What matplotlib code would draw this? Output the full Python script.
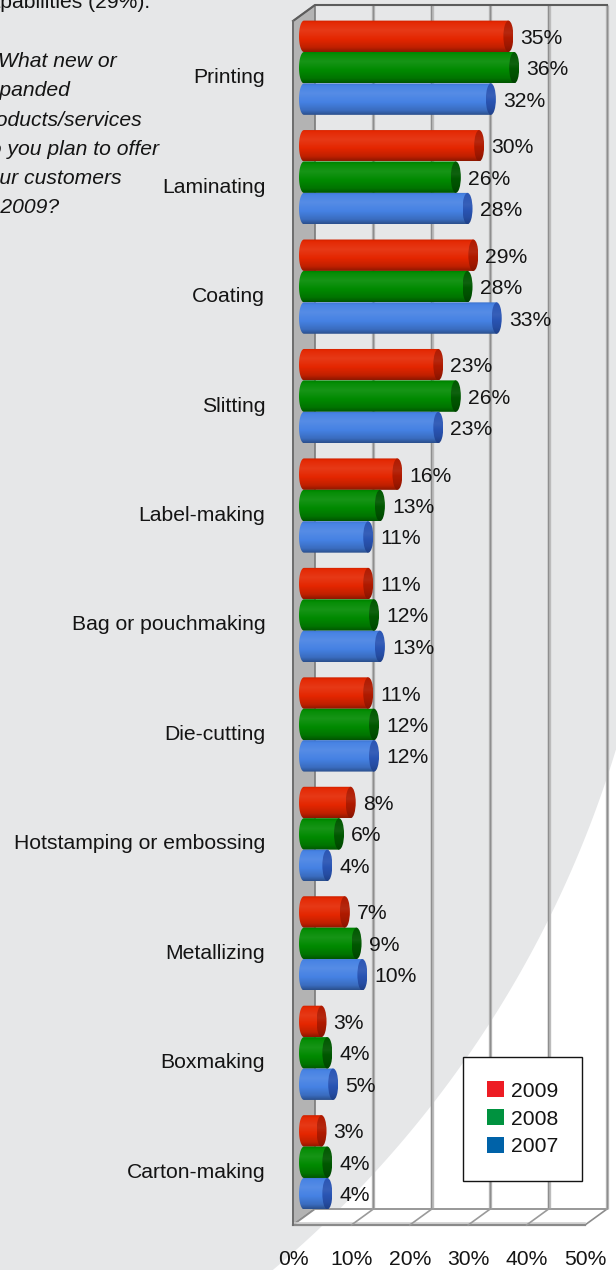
import numpy as np
import matplotlib
matplotlib.use("Agg")
import matplotlib.pyplot as plt
from matplotlib.patches import Polygon, Ellipse, Patch
from matplotlib.colors import to_rgb

# ---- data -------------------------------------------------------------
categories = ["Printing", "Laminating", "Coating", "Slitting", "Label-making",
              "Bag or pouchmaking", "Die-cutting", "Hotstamping or embossing",
              "Metallizing", "Boxmaking", "Carton-making"]
years = ["2009", "2008", "2007"]
values_2009 = [35, 30, 29, 23, 16, 11, 11, 8, 7, 3, 3]
values_2008 = [36, 26, 28, 26, 13, 12, 12, 6, 9, 4, 4]
values_2007 = [32, 28, 33, 23, 11, 13, 12, 4, 10, 5, 4]
x_ticks = [0, 10, 20, 30, 40, 50]
x_tick_labels = ["0%", "10%", "20%", "30%", "40%", "50%"]
intro_line = "capabilities (29%)."
question_lines = ["What new or", "expanded", "products/services",
                  "do you plan to offer", "your customers", "in 2009?"]

series = [values_2009, values_2008, values_2007]
body_colors = ["#e42600", "#008a00", "#4581e3"]
cap_colors = ["#b01a00", "#005800", "#2a55b4"]
legend_colors = ["#ed1c24", "#00923f", "#0062a8"]

FONT = "Liberation Sans"
FS = 15.2
TXT = "#141414"

# ---- canvas -----------------------------------------------------------
W, H = 616, 1270
fig = plt.figure(figsize=(W / 100, H / 100), dpi=100, facecolor="white")

bg = fig.add_axes([0, 0, 1, 1], zorder=0)
bg.set_xlim(0, W)
bg.set_ylim(H, 0)
bg.axis("off")
# light grey page with a sweeping white arc in the lower right corner
cx, cy, rad = -432.0, 432.0, 1095.0
arc_y = np.linspace(750, H, 80)
arc_x = cx + np.sqrt(rad ** 2 - (arc_y - cy) ** 2)
shape = [(0, 0), (W, 0), (W, 750)] + list(zip(arc_x, arc_y)) + [(0, H)]
bg.add_patch(Polygon(shape, closed=True, facecolor="#e6e7e8", edgecolor="none"))

bg.text(-22.5, 8, intro_line, fontsize=FS, family=FONT, color=TXT,
        ha="left", va="baseline")
q_x = [-2, -22.5, -22.5, -22.5, -22.5, -22.5]
q_base = [67, 96.5, 125.5, 155, 184, 213]
for line, x, yb in zip(question_lines, q_x, q_base):
    bg.text(x, yb, line, fontsize=FS, family=FONT, style="italic", color=TXT,
            ha="left", va="baseline")

# ---- chart axes (front plane of the 3-D box) --------------------------
L, R, T, B = 293, 585, 21, 1225
n = len(categories)
ax = fig.add_axes([L / W, 1 - B / H, (R - L) / W, (B - T) / H], zorder=1)
ax.set_facecolor("none")
ax.set_autoscale_on(False)
ax.set_xlim(0, 50)
ax.set_ylim(n - 0.5, -0.5)
for s in ax.spines.values():
    s.set_visible(False)

px_x = (R - L) / 50.0          # pixels per percent
px_y = (B - T) / float(n)      # pixels per category slot
dx = 22 / px_x                 # box depth, horizontal
dy = -16 / px_y                # box depth, vertical (upwards)
ytop, ybot = -0.5, n - 0.5
xmax = x_ticks[-1]

# left wall
ax.add_patch(Polygon([(0, ytop), (0, ybot), (dx, ybot + dy), (dx, ytop + dy)],
                     closed=True, facecolor="#b3b3b3", edgecolor="#7a7a7a",
                     lw=1.2, zorder=1, clip_on=False))
# floor
ax.add_patch(Polygon([(0, ybot), (xmax, ybot), (xmax + dx, ybot + dy), (dx, ybot + dy)],
                     closed=True, facecolor="white", edgecolor="#8c8c8c",
                     lw=1.2, zorder=1, clip_on=False))
ax.plot([0, xmax], [ybot - 2.5 / px_y] * 2, color="#cfcfcf", lw=1.2,
        zorder=1.2, clip_on=False)
ax.plot([0, xmax], [ybot, ybot], color="#8a8a8a", lw=1.6, zorder=1.3, clip_on=False)
for k in x_ticks[1:-1]:
    ax.plot([k, k + dx], [ybot, ybot + dy], color="#9a9a9a", lw=1.2,
            zorder=1.3, clip_on=False)
# back wall grid
for k in x_ticks[1:]:
    ax.plot([k + dx] * 2, [ytop + dy, ybot + dy], color="#bcbcbc", lw=2.4,
            zorder=1.4, clip_on=False, solid_capstyle="butt")
    ax.plot([k + dx - 0.5 / px_x] * 2, [ytop + dy, ybot + dy], color="#8e8e8e",
            lw=1.0, zorder=1.5, clip_on=False, solid_capstyle="butt")
ax.plot([dx, xmax + dx], [ybot + dy] * 2, color="#9a9a9a", lw=1.2,
        zorder=1.5, clip_on=False)
# top edges
ax.plot([0, dx, xmax + dx], [ytop, ytop + dy, ytop + dy], color="#5c5c5c",
        lw=1.5, zorder=1.6, clip_on=False)
ax.plot([0, 0], [ytop, ybot], color="#6e6e6e", lw=1.4, zorder=1.6, clip_on=False)


def shade(color, stops):
    base = np.array(to_rgb(color))
    rows = []
    t = np.linspace(0, 1, 64)
    pos = [p for p, _ in stops]
    fac = [f for _, f in stops]
    for v in np.interp(t, pos, fac):
        if v >= 1:
            c = base + (1 - base) * (v - 1)
        else:
            c = base * v
        rows.append(np.clip(c, 0, 1))
    return np.array(rows)[:, None, :]


BODY_STOPS = [(0.0, 0.90), (0.08, 1.02), (0.32, 1.09), (0.6, 1.0), (0.86, 0.84), (1.0, 0.62)]
CAP_STOPS = [(0.0, 1.0), (0.4, 1.06), (0.8, 0.9), (1.0, 0.75)]


def gradient_fill(patch, color, stops, extent, z):
    im = ax.imshow(shade(color, stops), extent=extent, aspect="auto",
                   interpolation="bilinear", zorder=z)
    im.set_clip_box(fig.bbox)
    im.set_clip_path(patch)
    return im


# ---- cylinders --------------------------------------------------------
bar_h = 0.287
offsets = [-bar_h, 0.0, bar_h]
a = 5 / px_x                   # half-width of the cylinder end
theta = np.linspace(np.pi / 2, 3 * np.pi / 2, 40)

for j, vals in enumerate(series):
    for i, v in enumerate(vals):
        yc = i + offsets[j] + dy / 2
        x0 = dx / 2
        xe = x0 + v
        verts = [(x0 + a * np.cos(t), yc + bar_h / 2 * np.sin(t)) for t in theta]
        verts += [(xe, yc - bar_h / 2), (xe, yc + bar_h / 2)]
        body = Polygon(verts, closed=True, transform=ax.transData)
        gradient_fill(body, body_colors[j], BODY_STOPS,
                      (x0 - a, xe, yc + bar_h / 2, yc - bar_h / 2), 3 + 0.01 * i)
        cap = Ellipse((xe, yc), 2 * a, bar_h, transform=ax.transData)
        gradient_fill(cap, cap_colors[j], CAP_STOPS,
                      (xe - a, xe + a, yc + bar_h / 2, yc - bar_h / 2), 3.005 + 0.01 * i)
        ax.text(xe + 12 / px_x, yc + 7.5 / px_y, f"{v}%", fontsize=FS, family=FONT,
                color=TXT, ha="left", va="baseline", zorder=5, clip_on=False)

# ---- axes labels ------------------------------------------------------
ax.set_xticks(x_ticks, x_tick_labels)
ax.set_yticks(range(n), categories)
ax.tick_params(length=0, labelsize=FS, labelcolor=TXT)
ax.tick_params(axis="x", pad=17.8)
ax.tick_params(axis="y", pad=20)
for lab in ax.get_xticklabels() + ax.get_yticklabels():
    lab.set_family(FONT)

# ---- legend -----------------------------------------------------------
handles = [Patch(facecolor=c, edgecolor="none") for c in legend_colors]
leg = ax.legend(handles, years, loc="upper left",
                bbox_to_anchor=(463 / W, 1 - 1057 / H), bbox_transform=fig.transFigure,
                frameon=True, fancybox=False, edgecolor=TXT, facecolor="white",
                framealpha=1, handlelength=0.8, handleheight=0.8, handletextpad=0.3,
                borderpad=1.15, labelspacing=0.4, borderaxespad=0,
                prop=dict(family=FONT, size=FS))
leg.get_frame().set_linewidth(1.0)
leg.set_zorder(10)
for t in leg.get_texts():
    t.set_color(TXT)

ax.set_xlim(0, 50)
ax.set_ylim(n - 0.5, -0.5)
fig.savefig("out.png", dpi=100, facecolor=fig.get_facecolor())
